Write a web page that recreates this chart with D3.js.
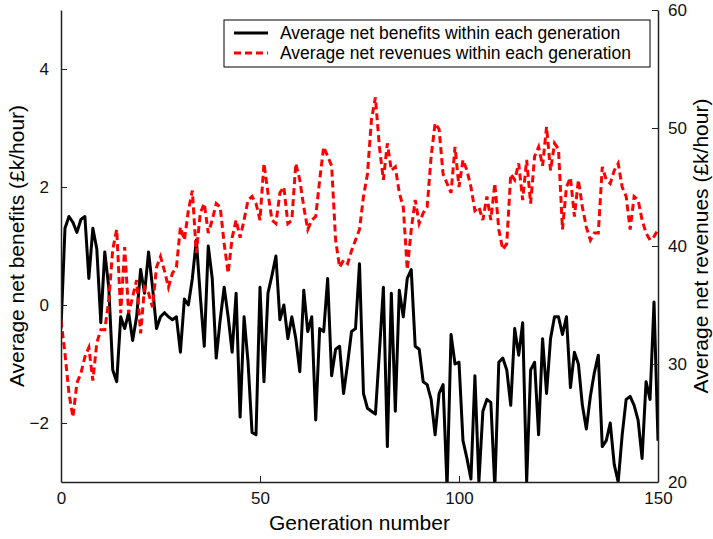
<!DOCTYPE html>
<meta charset="utf-8">
<style>
body { margin: 0; background: #fff; }
svg { display: block; font-family: 'Liberation Sans', Arial, sans-serif; }
.axis path, .axis line { stroke: #222; }
.axis text { fill: #111; font-size: 17px; }
.title { font-size: 21px; fill: #000; }
.legend text { font-size: 17.5px; fill: #000; }
</style>
<body>
<svg width="713" height="539"></svg>
<script src="https://d3js.org/d3.v7.min.js"></script>
<script>
// average net benefits (left axis), one value per generation 0..150
var benefits = [
  -0.4, 1.3, 1.5, 1.4, 1.23, 1.45, 1.5, 0.45, 1.3, 0.95,
  -0.3, 0.9, 0.3, -1.1, -1.3, -0.2, -0.4, -0.13, -0.6, -0.2,
  0.6, 0.2, 0.9, 0.3, -0.4, -0.2, -0.13, -0.2, -0.25, -0.2,
  -0.8, 0.1, 0, 0.45, 1.1, 0.15, -0.7, 1.0, 0.45, -0.9,
  -0.25, 0.3, -0.2, -0.8, 0.2, -1.9, -0.2, -0.97, -2.16, -2.2,
  0.3, -1.3, 0.2, 0.5, 0.83, -0.25, 0, -0.57, -0.2, -0.57,
  -1.13, 0.25, -0.45, -0.2, -1.95, -0.4, -0.45, 0.45, -1.2, -0.75,
  -0.7, -1.5, -1.0, -0.45, -0.4, 0.7, -1.5, -1.75, -1.8, -1.85,
  -0.8, 0.3, -2.4, 0.2, -1.8, 0.25, -0.2, 0.45, 0.6, -0.7,
  -0.75, -1.3, -1.35, -1.6, -2.2, -1.5, -1.35, -3.1, -0.5, -1.0,
  -0.97, -2.3, -2.6, -2.95, -1.2, -3.0, -1.8, -1.6, -1.65, -3.1,
  -0.97, -0.9, -1.1, -1.7, -0.4, -0.85, -0.3, -3.0, -1.1, -0.97,
  -2.2, -0.57, -1.5, -0.57, -0.2, -0.2, -0.5, -0.2, -1.4, -0.8,
  -1.0, -1.7, -2.1, -1.55, -1.15, -0.85, -2.4, -2.3, -2.0, -2.7,
  -3.0, -2.2, -1.6, -1.55, -1.7, -1.95, -2.6, -1.3, -1.6, 0.05,
  -2.3
];

// average net revenues (right axis)
var revenues = [
  33.7, 30.9, 27.5, 25.5, 28.4, 29.2, 30.6, 31.4, 28.6, 31.8,
  32.9, 32.9, 35.4, 39.7, 41.4, 34.3, 39.9, 34.3, 35.7, 37.1,
  32.6, 36.5, 36.0, 34.8, 38.2, 39.1, 37.9, 36.5, 37.7, 38.2,
  41.6, 40.5, 43.0, 44.7, 39.4, 42.8, 43.6, 41.1, 42.2, 43.6,
  43.3, 40.2, 37.7, 40.7, 42.2, 40.7, 42.2, 43.9, 44.2, 43.6,
  42.2, 47.0, 44.5, 42.2, 41.9, 44.5, 45.0, 41.9, 42.2, 47.0,
  45.6, 43.3, 41.4, 42.2, 42.5, 45.6, 48.4, 47.6, 46.8, 40.5,
  38.2, 38.8, 38.5, 39.6, 40.5, 41.4, 44.2, 46.1, 50.7, 52.6,
  48.4, 45.6, 48.7, 46.4, 46.7, 44.5, 43.3, 38.0, 41.4, 43.9,
  41.9, 42.8, 43.3, 47.6, 50.4, 49.9, 46.1, 45.3, 44.5, 48.4,
  45.0, 47.3, 46.4, 45.0, 43.0, 43.3, 42.2, 44.2, 42.2, 45.3,
  41.4, 39.7, 40.2, 46.1, 45.6, 47.0, 43.9, 47.3, 43.6, 47.6,
  48.4, 46.8, 50.1, 46.4, 48.7, 48.2, 41.4, 45.0, 45.8, 42.5,
  45.6, 43.3, 41.6, 40.5, 41.1, 41.1, 46.7, 45.6, 45.3, 46.4,
  47.0, 45.0, 44.2, 41.4, 44.2, 43.9, 42.2, 41.1, 40.5, 40.8,
  41.4
];

var generations = d3.range(benefits.length);
var xTicks = [0, 50, 100, 150];
var leftTicks = [-2, 0, 2, 4];
var rightTicks = [20, 30, 40, 50, 60];
var legendLabels = ["Average net benefits within each generation", "Average net revenues within each generation"];

var svg = d3.select("svg");
var mLeft = 61, mRight = 658, mTop = 10, mBottom = 482;

var x = d3.scaleLinear().domain([0, 150]).range([mLeft, mRight]);
var yL = d3.scaleLinear().domain([-3, 5]).range([mBottom, mTop]);
var yR = d3.scaleLinear().domain([20, 60]).range([mBottom, mTop]);

svg.append("defs").append("clipPath").attr("id", "clip")
  .append("rect").attr("x", mLeft).attr("y", mTop).attr("width", mRight - mLeft).attr("height", mBottom - mTop);

var plot = svg.append("g").attr("clip-path", "url(#clip)");

plot.append("path")
    .datum(generations)
    .attr("fill", "none")
    .attr("stroke", "#000")
    .attr("stroke-width", 3)
    .attr("stroke-linejoin", "round")
    .attr("d", d3.line().x(function(d) { return x(d); }).y(function(d) { return yL(benefits[d]); }));

plot.append("path")
    .datum(generations)
    .attr("fill", "none")
    .attr("stroke", "#ff0000")
    .attr("stroke-width", 3)
    .attr("stroke-dasharray", "7,4")
    .attr("d", d3.line().x(function(d) { return x(d); }).y(function(d) { return yR(revenues[d]); }));

// axes, ticks pointing inwards
svg.append("g").attr("class", "axis")
    .attr("transform", "translate(0," + mBottom + ")")
    .call(d3.axisBottom(x).tickValues(xTicks).tickSizeInner(-6).tickSizeOuter(0).tickPadding(10))
    .call(function(g) { g.selectAll("text").attr("dy", "0.71em"); });

svg.append("g").attr("class", "axis")
    .attr("transform", "translate(" + mLeft + ",0)")
    .call(d3.axisLeft(yL).tickValues(leftTicks).tickSizeInner(-6).tickSizeOuter(0).tickPadding(12));

svg.append("g").attr("class", "axis")
    .attr("transform", "translate(" + mRight + ",0)")
    .call(d3.axisRight(yR).tickValues(rightTicks).tickSizeInner(-6).tickSizeOuter(0).tickPadding(10));

svg.selectAll(".axis path").attr("stroke-width", 1.5);

// axis titles
svg.append("text").attr("class", "title")
    .attr("x", (mLeft + mRight) / 2).attr("y", 530)
    .attr("text-anchor", "middle")
    .text("Generation number");

svg.append("text").attr("class", "title")
    .attr("transform", "translate(24," + ((mTop + mBottom) / 2) + ") rotate(-90)")
    .attr("text-anchor", "middle")
    .text("Average net benefits (£k/hour)");

svg.append("text").attr("class", "title")
    .attr("transform", "translate(708," + ((mTop + mBottom) / 2) + ") rotate(-90)")
    .attr("text-anchor", "middle")
    .text("Average net revenues (£k/hour)");

// legend
var legend = svg.append("g").attr("class", "legend");
legend.append("rect")
    .attr("x", 224).attr("y", 20).attr("width", 426).attr("height", 47)
    .attr("fill", "#fff").attr("stroke", "#000").attr("stroke-width", 1);

var styles = [{ color: "#000", dash: null }, { color: "#ff0000", dash: "7,4" }];
legendLabels.forEach(function(label, i) {
  var ly = 33 + i * 20;
  legend.append("line")
      .attr("x1", 234).attr("x2", 268).attr("y1", ly).attr("y2", ly)
      .attr("stroke", styles[i].color).attr("stroke-width", 3)
      .attr("stroke-dasharray", styles[i].dash);
  legend.append("text")
      .attr("x", 280).attr("y", ly).attr("dy", "0.35em")
      .text(label);
});
</script>
</body>
